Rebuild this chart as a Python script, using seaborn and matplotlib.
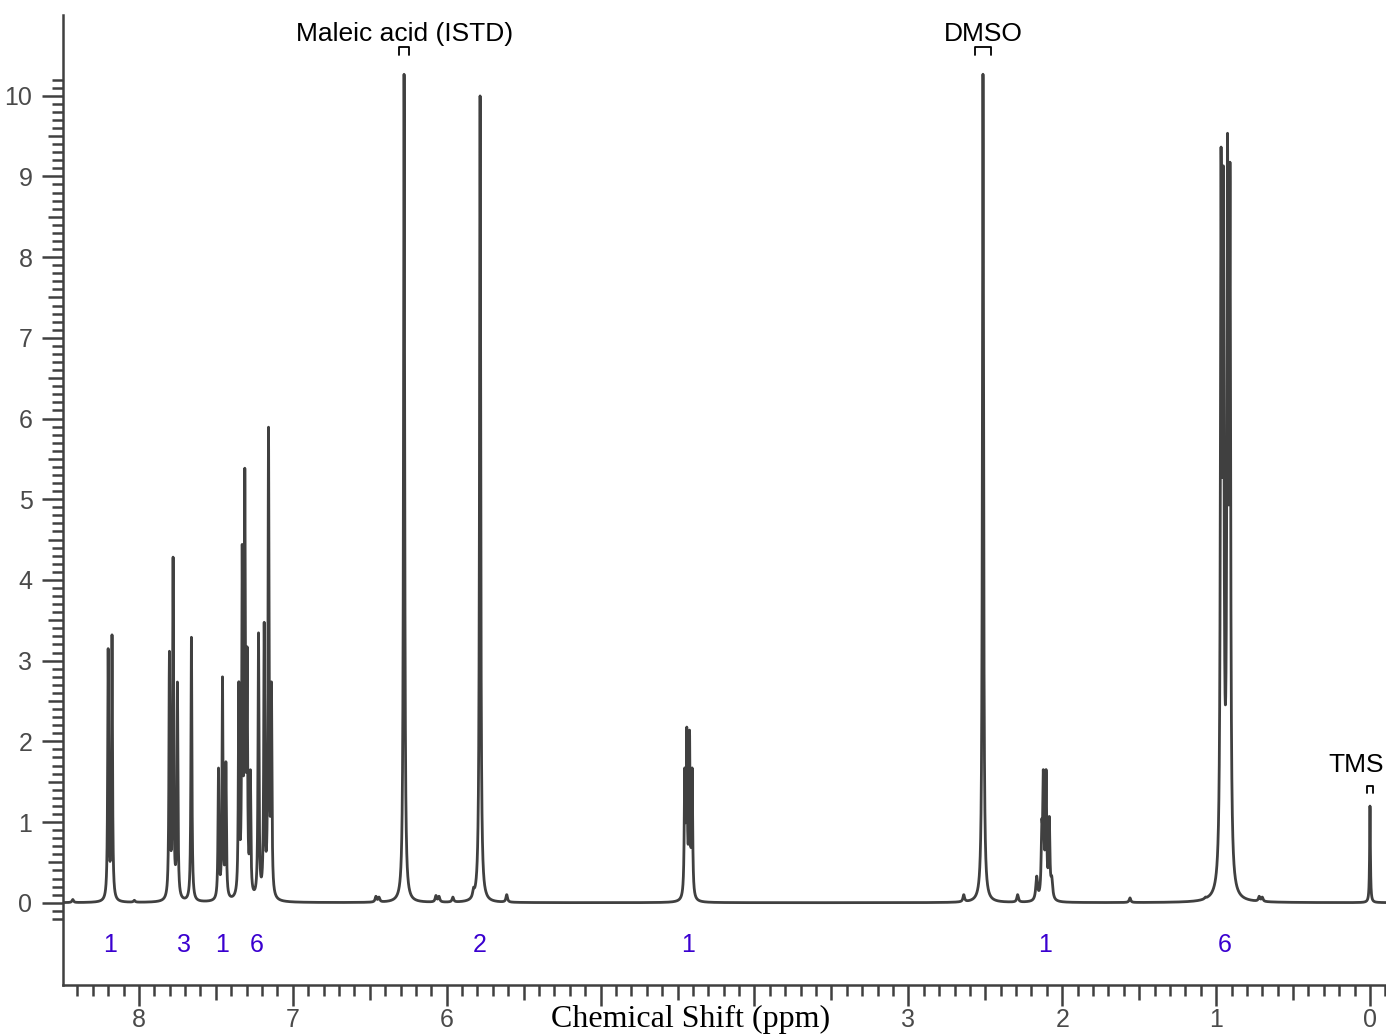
import numpy as np
import pandas as pd
import matplotlib
matplotlib.use("Agg")
import matplotlib.pyplot as plt
import seaborn as sns

# ---------------- data ----------------
# peak centres (ppm), observed heights, half widths (ppm)
peak_ppm = [8.200, 8.175,
            7.802, 7.778, 7.750, 7.659,
            7.483, 7.457, 7.435,
            7.351, 7.329, 7.312, 7.297, 7.276,
            7.223, 7.186, 7.158, 7.139,
            6.277,
            5.783,
            4.453, 4.440, 4.422, 4.405,
            2.515,
            2.166, 2.133, 2.123, 2.105, 2.084, 2.068,
            0.968, 0.953, 0.926, 0.910,
            0.000]
peak_height = [3.15, 3.32,
               3.12, 4.29, 2.74, 3.29,
               1.67, 2.80, 1.75,
               2.74, 4.44, 5.39, 3.17, 1.65,
               3.35, 3.48, 5.90, 2.74,
               10.27,
               10.00,
               1.67, 2.18, 2.14, 1.67,
               10.27,
               0.33, 1.03, 1.65, 1.65, 1.07, 0.33,
               9.36, 9.13, 9.54, 9.18,
               1.20]
peak_hwhm = [0.0037, 0.0037,
             0.0037, 0.0037, 0.0037, 0.0037,
             0.0037, 0.0037, 0.0037,
             0.0037, 0.0037, 0.0037, 0.0037, 0.0037,
             0.0037, 0.0037, 0.0037, 0.0037,
             0.0044,
             0.0044,
             0.0040, 0.0040, 0.0040, 0.0040,
             0.0044,
             0.0070, 0.0045, 0.0045, 0.0045, 0.0045, 0.0070,
             0.0050, 0.0050, 0.0050, 0.0050,
             0.0030]

# small impurity bumps
bump_ppm = [8.43, 8.03, 6.46, 6.44, 6.07, 6.05, 5.96, 5.826, 5.744, 5.61,
            2.64, 2.29, 1.56, 1.07, 1.05, 0.72, 0.70]
bump_height = [0.04, 0.03, 0.08, 0.07, 0.09, 0.08, 0.07, 0.19, 0.13, 0.10,
               0.10, 0.10, 0.06, 0.07, 0.08, 0.08, 0.07]

# integration values and their positions
integ_ppm = [8.19, 7.706, 7.459, 7.232, 5.783, 4.432, 2.112, 0.942]
integ_text = ["1", "3", "1", "6", "2", "1", "1", "6"]

# labelled reference peaks
ref_names = ["Maleic acid (ISTD)", "DMSO", "TMS"]
ref_ppm = [6.277, 2.515, 0.000]
ref_text_ppm = [6.277, 2.515, 0.09]
ref_text_y = [10.76, 10.76, 1.71]
ref_bracket_top = [10.60, 10.60, 1.45]
ref_bracket_halfwidth = [0.035, 0.055, 0.02]

x_major_labels = ["0", "1", "2", "3", "", "", "6", "7", "8"]

# ---------------- build spectrum from the peak list ----------------
def lor(x, c, g):
    return g * g / ((x - c) ** 2 + g * g)

centres = np.array(peak_ppm + bump_ppm)
targets = np.array(peak_height + bump_height)
widths = np.array(peak_hwhm + [0.006] * len(bump_ppm))
A = lor(centres[:, None], centres[None, :], widths[None, :])
amps = np.maximum(np.linalg.solve(A, targets), 0.0)

ppm = np.linspace(8.5, -0.11, 24000)
intensity = (amps[None, :] * lor(ppm[:, None], centres[None, :], widths[None, :])).sum(axis=1)
df = pd.DataFrame({"ppm": ppm, "intensity": intensity})

# ---------------- plotting ----------------
sns.set_theme(style="ticks")
plt.rcParams["font.family"] = ["Liberation Sans", "DejaVu Sans"]

line_col = "#404040"
fig = plt.figure(figsize=(13.86, 10.36), dpi=100)
ax = fig.add_axes([0.04545, 0.0492, 0.95455, 0.9363])

sns.lineplot(data=df, x="ppm", y="intensity", ax=ax, color=line_col,
             linewidth=2.0, sort=False, estimator=None)

ax.set_xlim(8.4935, -0.104)
ax.set_ylim(-1.02, 11.0)

for s in ["top", "right"]:
    ax.spines[s].set_visible(False)
for s in ["left", "bottom"]:
    ax.spines[s].set_color(line_col)
    ax.spines[s].set_linewidth(1.8)

# ticks
x_ticks_half = np.arange(0, 8.01, 0.5)
ax.set_xticks(x_ticks_half)
ax.set_xticklabels([x_major_labels[int(v)] if float(v).is_integer() else "" for v in x_ticks_half])
ax.set_xticks(np.round(np.arange(-0.1, 8.45, 0.1), 2), minor=True)
y_ticks_half = np.arange(0, 10.01, 0.5)
ax.set_yticks(y_ticks_half)
ax.set_yticklabels([str(int(v)) if float(v).is_integer() else "" for v in y_ticks_half])
ax.set_yticks(np.round(np.arange(-0.2, 10.25, 0.1), 2), minor=True)

ax.tick_params(axis="both", which="major", length=15, width=1.8, color=line_col,
               labelsize=18, labelcolor="#4a4a4a")
ax.tick_params(axis="both", which="minor", length=8, width=1.8, color=line_col)
ax.tick_params(axis="x", which="major", pad=1.5)
ax.tick_params(axis="y", which="major", pad=7)

for t, v in zip(ax.xaxis.get_major_ticks(), x_ticks_half):
    if not float(v).is_integer():
        t.tick1line.set_markersize(11)
for t, v in zip(ax.yaxis.get_major_ticks(), y_ticks_half):
    if not float(v).is_integer():
        t.tick1line.set_markersize(11)

ax.set_ylabel("")
ax.set_xlabel("Chemical Shift (ppm)", fontsize=23, family=["Liberation Serif", "DejaVu Serif"],
              color="black")
ax.xaxis.set_label_coords(0.4747, -0.021)

# integration labels
for xp, tx in zip(integ_ppm, integ_text):
    ax.text(xp, -0.52, tx, ha="center", va="center", fontsize=18, color="#3a00d0")

# reference peak annotations
for name, pk, tx_p, ty, btop, bw in zip(ref_names, ref_ppm, ref_text_ppm, ref_text_y,
                                        ref_bracket_top, ref_bracket_halfwidth):
    ax.text(tx_p, ty, name, ha="center", va="center", fontsize=19, color="black")
    ax.plot([pk - bw, pk - bw, pk + bw, pk + bw],
            [btop - 0.09, btop, btop, btop - 0.09], color="black", lw=1.3)

fig.savefig("out.png", dpi=100)
